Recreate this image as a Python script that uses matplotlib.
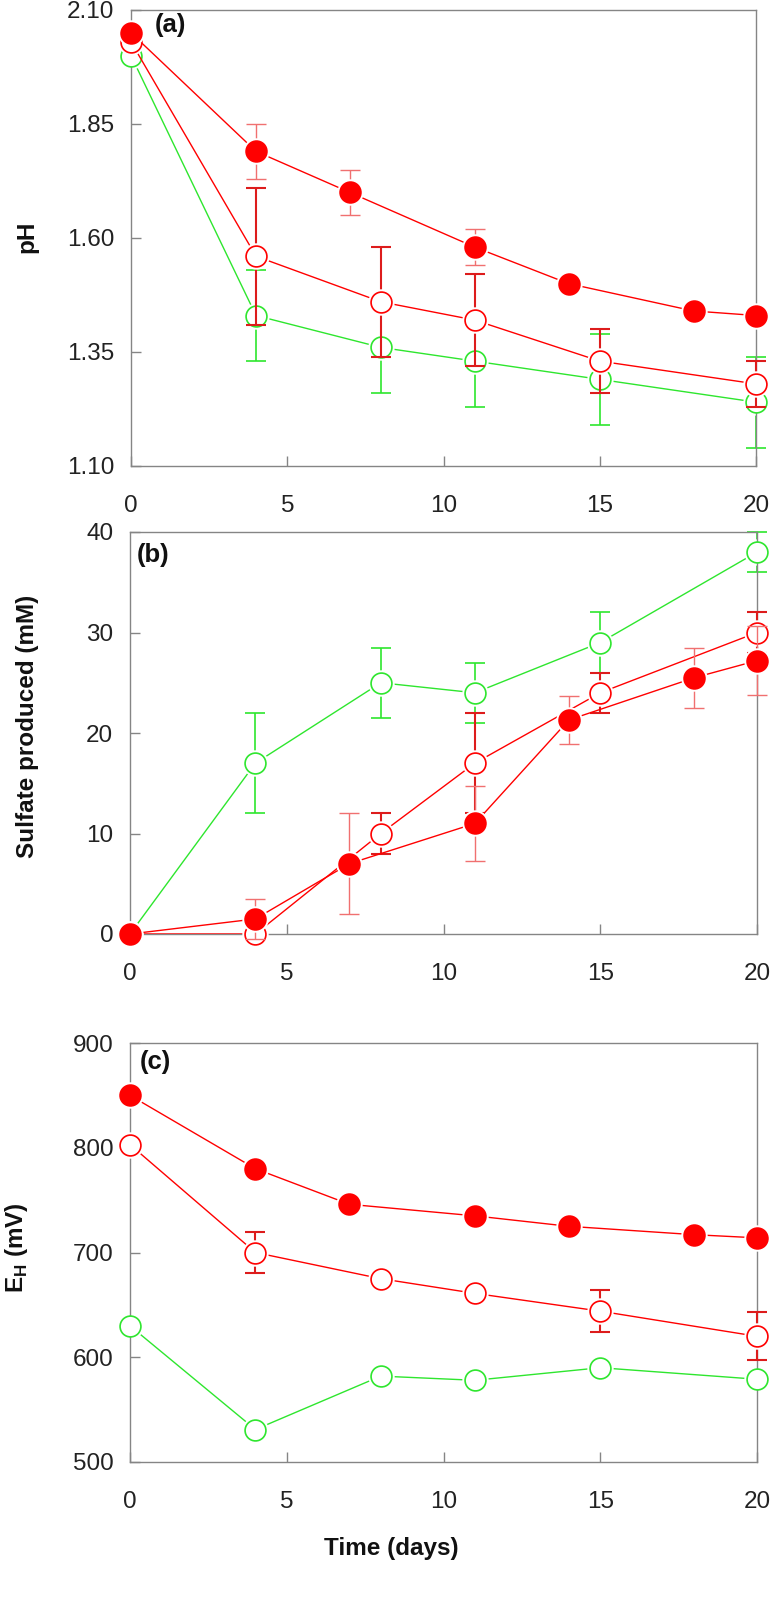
import matplotlib
matplotlib.use("Agg")
import matplotlib.pyplot as plt

matplotlib.rcParams.update({
    "font.family": ["Liberation Sans", "DejaVu Sans"],
    "mathtext.fontset": "custom",
    "mathtext.rm": "Liberation Sans",
    "mathtext.bf": "Liberation Sans:bold",
})

RED = "#ff0000"
RED_ERR_DARK = "#dd1c1c"
RED_ERR_LIGHT = "#f07070"
GREEN = "#2ee62e"
SPINE = "#858585"
TEXT = "#222222"

# sampling days
t_fill = [0, 4, 7, 11, 14, 18, 20]
t_open = [0, 4, 8, 11, 15, 20]

# (a) pH
ph_fill = [2.05, 1.79, 1.70, 1.58, 1.50, 1.44, 1.43]
ph_fill_err = [0, 0.06, 0.05, 0.04, 0, 0, 0]
ph_red = [2.03, 1.56, 1.46, 1.42, 1.33, 1.28]
ph_red_err = [0, 0.15, 0.12, 0.10, 0.07, 0.05]
ph_green = [2.00, 1.43, 1.36, 1.33, 1.29, 1.24]
ph_green_err = [0, 0.10, 0.10, 0.10, 0.10, 0.10]

# (b) sulfate produced (mM)
so4_fill = [0, 1.5, 7, 11, 21.3, 25.5, 27.2]
so4_fill_err = [0, 2, 5, 3.7, 2.4, 3, 3.4]
so4_red = [0, 0, 10, 17, 24, 30]
so4_red_err = [0, 0, 2, 5, 2, 2]
so4_green = [0, 17, 25, 24, 29, 38]
so4_green_err = [0, 5, 3.5, 3, 3, 2]

# (c) redox potential (mV)
eh_fill = [850, 780, 746, 735, 725, 717, 714]
eh_red = [803, 700, 675, 661, 644, 620]
eh_red_err = [0, 20, 0, 0, 20, 23]
eh_green = [630, 531, 582, 578, 590, 579]

W, H = 774, 1598


def px_axes(fig, left, right, top, bottom):
    return fig.add_axes([left / W, (H - bottom) / H, (right - left) / W, (bottom - top) / H])


def series(ax, x, y, err, color, ecolor, elw, filled, z):
    if err is not None:
        ax.errorbar(x, y, yerr=err, fmt="none", ecolor=ecolor, elinewidth=elw,
                    capsize=7, capthick=elw, zorder=z, clip_on=False)
    ax.plot(x, y, "-", color=color, lw=1.0, zorder=z)
    # white halo gives the small gap between line and marker
    ax.plot(x, y, "o", ms=19, mfc="white", mec="none", zorder=z + 0.3, clip_on=False)
    ax.plot(x, y, "o", ms=15, mfc=color if filled else "white", mec=color,
            mew=1.2, zorder=z + 0.6, clip_on=False)


def style(ax, ylim, yticks, fmt):
    ax.set_xlim(0, 20)
    ax.set_ylim(*ylim)
    ax.set_xticks([0, 5, 10, 15, 20])
    ax.set_yticks(yticks)
    ax.set_yticklabels([fmt.format(v) for v in yticks])
    for s in ax.spines.values():
        s.set_color(SPINE)
        s.set_linewidth(1.0)
    ax.tick_params(direction="in", length=7, width=1, color=SPINE,
                   labelsize=17.5, labelcolor=TEXT)
    ax.tick_params(axis="x", pad=21)
    ax.tick_params(axis="y", pad=12)


def panel_label(ax, x, y, s):
    ax.text(x, y, s, transform=ax.transAxes, fontsize=18.5, fontweight="bold",
            va="center", ha="left", color="#111111")


fig = plt.figure(figsize=(W / 100, H / 100), dpi=100)

# (a)
ax = px_axes(fig, 131, 756, 10, 466)
series(ax, t_open, ph_green, ph_green_err, GREEN, GREEN, 1.2, False, 2)
series(ax, t_open, ph_red, ph_red_err, RED, RED_ERR_DARK, 1.5, False, 3)
series(ax, t_fill, ph_fill, ph_fill_err, RED, RED_ERR_LIGHT, 1.0, True, 4)
style(ax, (1.10, 2.10), [1.10, 1.35, 1.60, 1.85, 2.10], "{:.2f}")
panel_label(ax, 0.038, 0.967, "(a)")

# (b)
ax = px_axes(fig, 130, 757, 532, 934)
series(ax, t_open, so4_green, so4_green_err, GREEN, GREEN, 1.2, False, 2)
series(ax, t_open, so4_red, so4_red_err, RED, RED_ERR_DARK, 1.5, False, 3)
series(ax, t_fill, so4_fill, so4_fill_err, RED, RED_ERR_LIGHT, 1.0, True, 4)
style(ax, (0, 40), [0, 10, 20, 30, 40], "{:.0f}")
panel_label(ax, 0.011, 0.943, "(b)")

# (c)
ax = px_axes(fig, 130, 757, 1043, 1462)
series(ax, t_open, eh_green, None, GREEN, GREEN, 1.2, False, 2)
series(ax, t_open, eh_red, eh_red_err, RED, RED_ERR_DARK, 1.5, False, 3)
series(ax, t_fill, eh_fill, None, RED, RED_ERR_LIGHT, 1.0, True, 4)
style(ax, (500, 900), [500, 600, 700, 800, 900], "{:.0f}")
panel_label(ax, 0.016, 0.955, "(c)")

# axis titles
lab = dict(fontsize=17.5, fontweight="bold", color="#111111", ha="center", va="center")
fig.text(27 / W, 1 - 237 / H, "pH", rotation=90, **lab)
fig.text(28 / W, 1 - 726 / H, "Sulfate produced (mM)", rotation=90, **lab)
fig.text(17 / W, 1 - 1248 / H, r"E$_{\mathbf{H}}$ (mV)", rotation=90, **lab)
fig.text(391 / W, 1 - 1548 / H, "Time (days)", **lab)

fig.savefig("out.png", dpi=100, facecolor="white")
